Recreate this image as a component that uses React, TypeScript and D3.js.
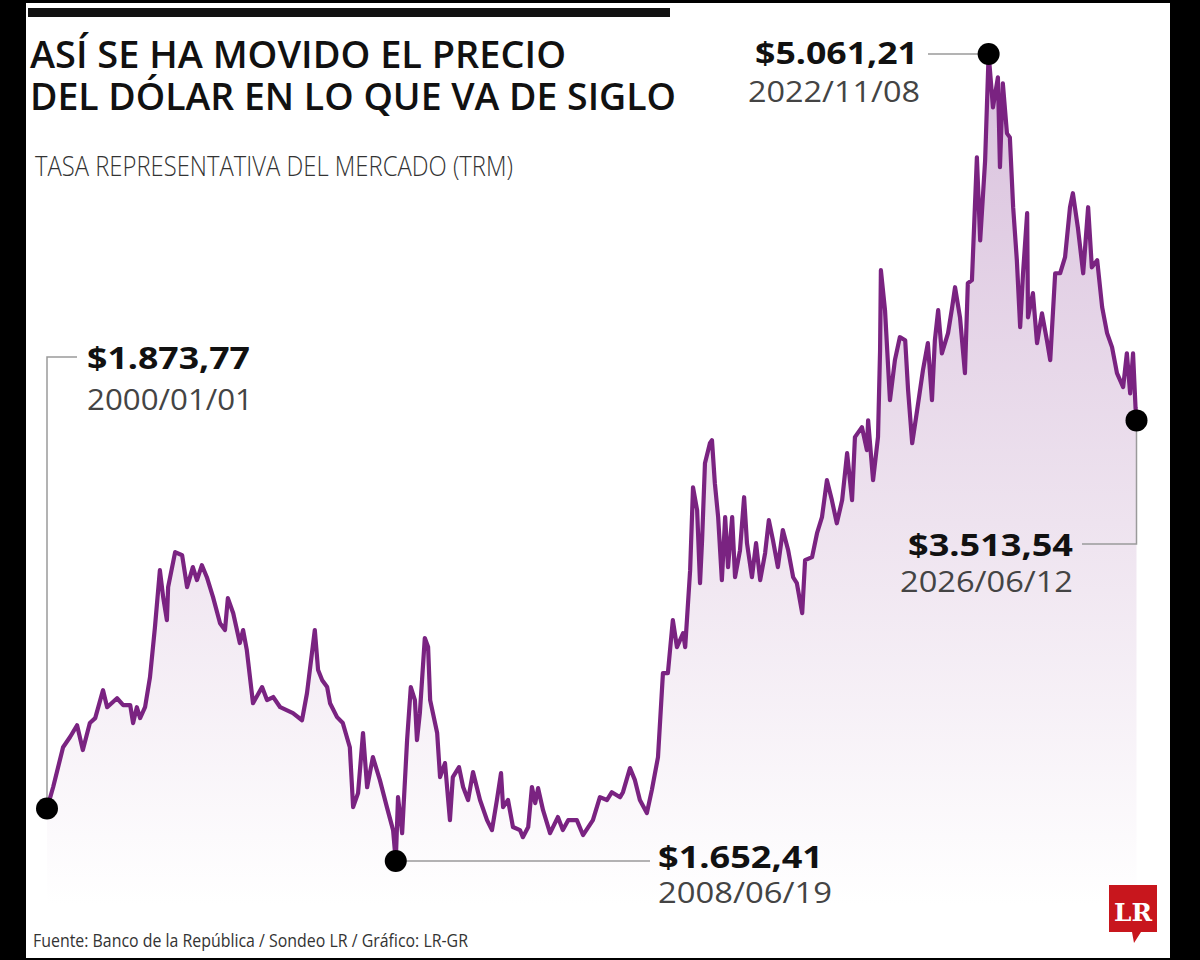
import { useEffect } from "react";
import * as d3 from "d3";

// TRM readings (decimal year, COP per USD)
const years = [
  2000.0, 2000.15, 2000.39, 2000.56, 2000.73, 2000.87, 2001.04, 2001.17, 2001.36, 2001.46,
  2001.7, 2001.85, 2002.02, 2002.09, 2002.18, 2002.26, 2002.38, 2002.5, 2002.62, 2002.74,
  2002.82, 2002.91, 2002.94, 2003.11, 2003.28, 2003.4, 2003.54, 2003.64, 2003.76, 2003.88,
  2004.03, 2004.2, 2004.32, 2004.39, 2004.52, 2004.68, 2004.76, 2004.85, 2005.0, 2005.22,
  2005.34, 2005.49, 2005.66, 2005.97, 2006.19, 2006.31, 2006.5, 2006.58, 2006.68, 2006.8,
  2006.87, 2007.04, 2007.18, 2007.35, 2007.43, 2007.55, 2007.67, 2007.77, 2007.91, 2008.08,
  2008.25, 2008.4, 2008.465, 2008.52, 2008.62, 2008.74, 2008.83, 2008.93, 2008.98, 2009.05,
  2009.17, 2009.25, 2009.3, 2009.47, 2009.54, 2009.66, 2009.78, 2009.85, 2010.0, 2010.1,
  2010.22, 2010.34, 2010.51, 2010.68, 2010.8, 2010.92, 2011.02, 2011.07, 2011.19, 2011.31,
  2011.48, 2011.55, 2011.68, 2011.77, 2011.85, 2011.92, 2012.04, 2012.21, 2012.4, 2012.52,
  2012.65, 2012.86, 2013.01, 2013.25, 2013.42, 2013.59, 2013.71, 2013.91, 2013.98, 2014.15,
  2014.27, 2014.39, 2014.56, 2014.68, 2014.83, 2014.95, 2015.07, 2015.19, 2015.29, 2015.44,
  2015.49, 2015.61, 2015.68, 2015.78, 2015.85, 2015.9, 2015.97, 2016.09, 2016.14, 2016.21,
  2016.29, 2016.38, 2016.46, 2016.53, 2016.63, 2016.7, 2016.82, 2016.92, 2016.99, 2017.11,
  2017.21, 2017.31, 2017.43, 2017.52, 2017.62, 2017.74, 2017.86, 2017.99, 2018.11, 2018.2,
  2018.33, 2018.4, 2018.57, 2018.69, 2018.81, 2018.93, 2019.05, 2019.17, 2019.3, 2019.42,
  2019.54, 2019.61, 2019.78, 2019.9, 2019.93, 2020.05, 2020.17, 2020.22, 2020.24, 2020.34,
  2020.46, 2020.58, 2020.7, 2020.83, 2020.9, 2021.0, 2021.12, 2021.26, 2021.38, 2021.48,
  2021.55, 2021.63, 2021.72, 2021.87, 2021.97, 2022.04, 2022.16, 2022.28, 2022.35, 2022.45,
  2022.57, 2022.65, 2022.77, 2022.855, 2022.96, 2023.08, 2023.13, 2023.2, 2023.3, 2023.37,
  2023.45, 2023.54, 2023.62, 2023.69, 2023.79, 2023.81, 2023.93, 2024.03, 2024.15, 2024.27,
  2024.35, 2024.47, 2024.59, 2024.71, 2024.83, 2024.9, 2025.02, 2025.15, 2025.27, 2025.36,
  2025.49, 2025.61, 2025.73, 2025.85, 2025.97, 2026.12, 2026.21, 2026.29, 2026.36, 2026.42,
  2026.444,
];

const values = [
  1873.77, 1965, 2133, 2176, 2226, 2121, 2235, 2256, 2374, 2302,
  2340, 2311, 2311, 2235, 2302, 2256, 2302, 2429, 2640, 2881,
  2767, 2670, 2809, 2957, 2944, 2809, 2894, 2839, 2902, 2851,
  2767, 2657, 2628, 2763, 2699, 2573, 2628, 2543, 2319, 2387,
  2332, 2345, 2302, 2277, 2247, 2361, 2628, 2459, 2416, 2387,
  2319, 2260, 2235, 2133, 1880, 1939, 2193, 1964, 2091, 1994,
  1880, 1783, 1652.41, 1922, 1770, 2163, 2387, 2332, 2163, 2277,
  2594, 2556, 2332, 2193, 2007, 2066, 1825, 2007, 2049, 1965,
  1910, 2028, 1910, 1825, 1783, 1910, 2024, 1880, 1910, 1796,
  1783, 1753, 1796, 1965, 1897, 1960, 1867, 1770, 1838, 1783,
  1825, 1825, 1762, 1825, 1922, 1910, 1943, 1922, 1943, 2045,
  1994, 1910, 1855, 1952, 2091, 2446, 2446, 2670, 2556, 2615,
  2556, 2881, 3231, 3134, 2826, 3008, 3333, 3417, 3430, 3248,
  3105, 2839, 3105, 2894, 3105, 2851, 2965, 3189, 2995, 2851,
  2995, 2839, 2953, 3092, 3008, 2894, 3050, 2965, 2851, 2826,
  2699, 2923, 2936, 3037, 3105, 3261, 3177, 3079, 3177, 3375,
  3177, 3443, 3485, 3388, 3514, 3261, 3443, 3810, 4148, 3979,
  3599, 3768, 3865, 3852, 3641, 3417, 3557, 3725, 3840, 3599,
  3852, 3979, 3797, 3882, 3992, 4076, 3949, 3713, 4093, 4106,
  4625, 4274, 4612, 5061.21, 4836, 4963, 4583, 4937, 4726, 4709,
  4414, 4190, 3907, 4135, 4389, 3949, 4051, 3840, 3966, 3852,
  3768, 4135, 4135, 4203, 4414, 4473, 4329, 4135, 4414, 4160,
  4190, 3992, 3882, 3823, 3713, 3654, 3797, 3628, 3797, 3569,
  3513.54,
];

// highlighted points: start, minimum, maximum, last
const markYears = [2000.0, 2008.465, 2022.855, 2026.444];
const markValues = [1873.77, 1652.41, 5061.21, 3513.54];
const markPrices = ["$1.873,77", "$1.652,41", "$5.061,21", "$3.513,54"];
const markDates = ["2000/01/01", "2008/06/19", "2022/11/08", "2026/06/12"];

const W = 1200;
const H = 960;
const PURPLE = "#7a2381";
const LEADER = "#9a9a9a";

export default function App() {
  useEffect(() => {
    document.body.style.margin = "0";
  }, []);

  const x = d3.scaleLinear().domain([2000, 2026.444]).range([47, 1136.5]);
  const y = d3.scaleLinear().domain([1652.41, 5061.21]).range([861, 54]);
  const baseY = 905;

  const pts = years.map((t, i) => ({ t, v: values[i] }));
  const line = d3
    .line<{ t: number; v: number }>()
    .x((d) => x(d.t))
    .y((d) => y(d.v));
  const area = d3
    .area<{ t: number; v: number }>()
    .x((d) => x(d.t))
    .y0(baseY)
    .y1((d) => y(d.v));

  const m = markYears.map((t, i) => ({ cx: x(t), cy: y(markValues[i]) }));
  const font = "'Open Sans', 'DejaVu Sans', sans-serif";

  return (
    <svg width={W} height={H} style={{ display: "block" }}>
      <defs>
        <linearGradient id="fillGrad" gradientUnits="userSpaceOnUse" x1="0" y1="54" x2="0" y2={baseY}>
          <stop offset="0%" stopColor="#d9c1dd" />
          <stop offset="55%" stopColor="#eee3ef" />
          <stop offset="100%" stopColor="#ffffff" />
        </linearGradient>
      </defs>
      <rect x={0} y={0} width={W} height={H} fill="#000" />
      <rect x={26} y={3} width={1144} height={955} fill="#fff" />
      <rect x={28} y={8} width={642} height={9} fill="#111" />

      {/* titles */}
      <g fontFamily={font} fill="#111">
        <text x={30} y={68} fontSize={37} fontWeight={600} textLength={536} lengthAdjust="spacingAndGlyphs">
          ASÍ SE HA MOVIDO EL PRECIO
        </text>
        <text x={30} y={110} fontSize={37} fontWeight={600} textLength={646} lengthAdjust="spacingAndGlyphs">
          DEL DÓLAR EN LO QUE VA DE SIGLO
        </text>
        <text x={35} y={176} fontSize={28} fontWeight={300} fill="#333" textLength={478} lengthAdjust="spacingAndGlyphs">
          TASA REPRESENTATIVA DEL MERCADO (TRM)
        </text>
      </g>

      {/* series */}
      <path d={area(pts) ?? ""} fill="url(#fillGrad)" />
      <path
        d={line(pts) ?? ""}
        fill="none"
        stroke={PURPLE}
        strokeWidth={4.2}
        strokeLinejoin="round"
        strokeLinecap="round"
      />

      {/* leader lines */}
      <g fill="none" stroke={LEADER} strokeWidth={1.5}>
        <polyline points={`${m[0].cx},${m[0].cy} ${m[0].cx},357 77,357`} />
        <polyline points={`${m[1].cx},${m[1].cy} 650,${m[1].cy}`} />
        <polyline points={`928,${m[2].cy} ${m[2].cx},${m[2].cy}`} />
        <polyline points={`${m[3].cx},${m[3].cy} ${m[3].cx},544 1082,544`} />
      </g>
      {m.map((p, i) => (
        <circle key={i} cx={p.cx} cy={p.cy} r={11} fill="#000" />
      ))}

      {/* labels */}
      <g fontFamily={font}>
        <text x={87} y={369} fontSize={30} fontWeight={700} fill="#111" textLength={163} lengthAdjust="spacingAndGlyphs">
          {markPrices[0]}
        </text>
        <text x={87} y={410} fontSize={29} fill="#444" textLength={166} lengthAdjust="spacingAndGlyphs">
          {markDates[0]}
        </text>
        <text x={658} y={868} fontSize={30} fontWeight={700} fill="#111" textLength={165} lengthAdjust="spacingAndGlyphs">
          {markPrices[1]}
        </text>
        <text x={658} y={903} fontSize={29} fill="#444" textLength={174} lengthAdjust="spacingAndGlyphs">
          {markDates[1]}
        </text>
        <text x={755} y={64} fontSize={30} fontWeight={700} fill="#111" textLength={163} lengthAdjust="spacingAndGlyphs">
          {markPrices[2]}
        </text>
        <text x={748} y={102} fontSize={29} fill="#444" textLength={172} lengthAdjust="spacingAndGlyphs">
          {markDates[2]}
        </text>
        <text x={908} y={556} fontSize={30} fontWeight={700} fill="#111" textLength={165} lengthAdjust="spacingAndGlyphs">
          {markPrices[3]}
        </text>
        <text x={900} y={592} fontSize={29} fill="#444" textLength={173} lengthAdjust="spacingAndGlyphs">
          {markDates[3]}
        </text>
      </g>

      {/* footer */}
      <text x={33} y={947} fontFamily={font} fontSize={18} fill="#333" textLength={435} lengthAdjust="spacingAndGlyphs">
        Fuente: Banco de la República / Sondeo LR / Gráfico: LR-GR
      </text>

      {/* LR logo */}
      <g>
        <path d="M1109,885 H1157 V932 H1141 L1134,943 L1132,932 H1109 Z" fill="#c8161d" />
        <text
          x={1133}
          y={921}
          textAnchor="middle"
          fontFamily="'DejaVu Serif', 'Liberation Serif', serif"
          fontWeight={700}
          fontSize={24}
          fill="#fff"
          textLength={38}
          lengthAdjust="spacingAndGlyphs"
        >
          LR
        </text>
      </g>
    </svg>
  );
}
